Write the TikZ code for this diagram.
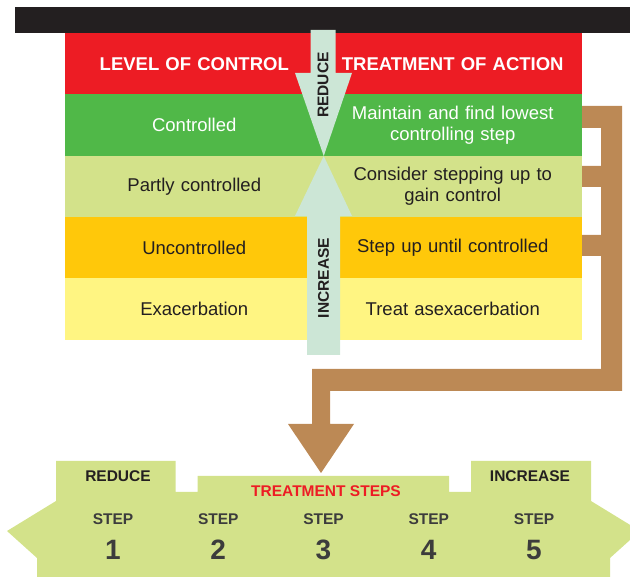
\documentclass[tikz,border=0pt]{standalone}
\usepackage{fontspec}
\setmainfont{Liberation Sans}
\usepackage{tikz}
\definecolor{ctlred}{RGB}{237,28,36}
\definecolor{ctlgreen}{RGB}{80,184,72}
\definecolor{ctllime}{RGB}{211,226,138}
\definecolor{ctlorange}{RGB}{255,200,10}
\definecolor{ctlyellow}{RGB}{255,245,130}
\definecolor{arrowmint}{RGB}{204,230,214}
\definecolor{pipebrown}{RGB}{188,137,85}
\definecolor{inkdark}{RGB}{35,31,32}
\definecolor{inkgray}{RGB}{60,60,60}
\tikzset{every picture/.style={x=1pt, y=-1pt}}
\tikzset{every node/.style={inner sep=0pt, outer sep=0pt}}
\tikzset{cell/.style={rectangle, minimum width=259pt, minimum height=61.9pt,
  text width=250pt, align=center, font=\fontsize{18.5}{21}\selectfont}}
\tikzset{tag/.style={font=\fontsize{15.5}{18}\selectfont\bfseries, text=inkdark}}
\tikzset{steplabel/.style={font=\fontsize{15.5}{18}\selectfont\bfseries, text=inkgray}}
\tikzset{stepno/.style={font=\fontsize{28}{30}\selectfont\bfseries, text=inkgray}}

\begin{document}
\begin{tikzpicture}
\useasboundingbox (0,0) rectangle (630,577);
\fill[inkdark] (15,7) rectangle (640,33);

% table of control levels
\foreach \i/\cc/\tc/\lt/\rt in {
  0/ctlred/white/{\bfseries LEVEL OF CONTROL}/{\bfseries TREATMENT OF ACTION},
  1/ctlgreen/white/Controlled/{Maintain and find lowest\\controlling step},
  2/ctllime/inkdark/{Partly controlled}/{Consider stepping up to\\gain control},
  3/ctlorange/inkdark/Uncontrolled/{Step up until controlled},
  4/ctlyellow/inkdark/Exacerbation/{Treat asexacerbation}} {
    \pgfmathsetmacro{\yy}{63.7 + 61.4*\i}
    \node[cell, fill=\cc, text=\tc] (lev\i) at (194.25,\yy) {\lt};
    \node[cell, fill=\cc, text=\tc] (act\i) at (452.75,\yy) {\rt};
}

% reduce / increase arrows
\coordinate (tip) at (lev1.south east);
\fill[arrowmint] (310.5,30) -- (335.5,30) -- (335.5,73) -- (352,73) -- (tip)
  -- (295,73) -- (310.5,73) -- cycle;
\fill[arrowmint] (307,355) -- (340,355) -- (340,216) -- (352,216) -- (tip)
  -- (295,216) -- (307,216) -- cycle;
\node[tag, rotate=90] (reduce) at (323,85) {REDUCE};
\node[tag, rotate=90] (increase) at (323.5,278) {INCREASE};

% brown pipe to the steps
\fill[pipebrown] (582,106) -- (622,106) -- (622,391) -- (330,391) -- (330,424)
  -- (354,424) -- (321,473) -- (288,424) -- (312,424) -- (312,369) -- (601,369)
  -- (601,256) -- (582,256) -- (582,235) -- (601,235) -- (601,187) -- (582,187)
  -- (582,166) -- (601,166) -- (601,128) -- (582,128) -- cycle;

% treatment steps
\fill[ctllime] (56,461) -- (175.6,461) -- (175.6,492) -- (197.7,492) -- (197.7,476)
  -- (449,476) -- (449,492) -- (471,492) -- (471,461) -- (591,461) -- (591,501)
  -- (640,531) -- (610,558) -- (610,590) -- (37,590) -- (37,558) -- (7,531)
  -- (56,501) -- cycle;
\node[tag] (lessTag) at (118,476) {REDUCE};
\node[tag, text=ctlred] (stepsTitle) at (326,491) {TREATMENT STEPS};
\node[tag] (moreTag) at (530,476) {INCREASE};
\foreach \s in {1,...,5} {
    \pgfmathsetmacro{\sx}{113 + 105.25*(\s - 1)}
    \node[steplabel] (step\s) at (\sx,519) {STEP};
    \node[stepno] (num\s) at (\sx,550) {\s};
}
\end{tikzpicture}
\end{document}
